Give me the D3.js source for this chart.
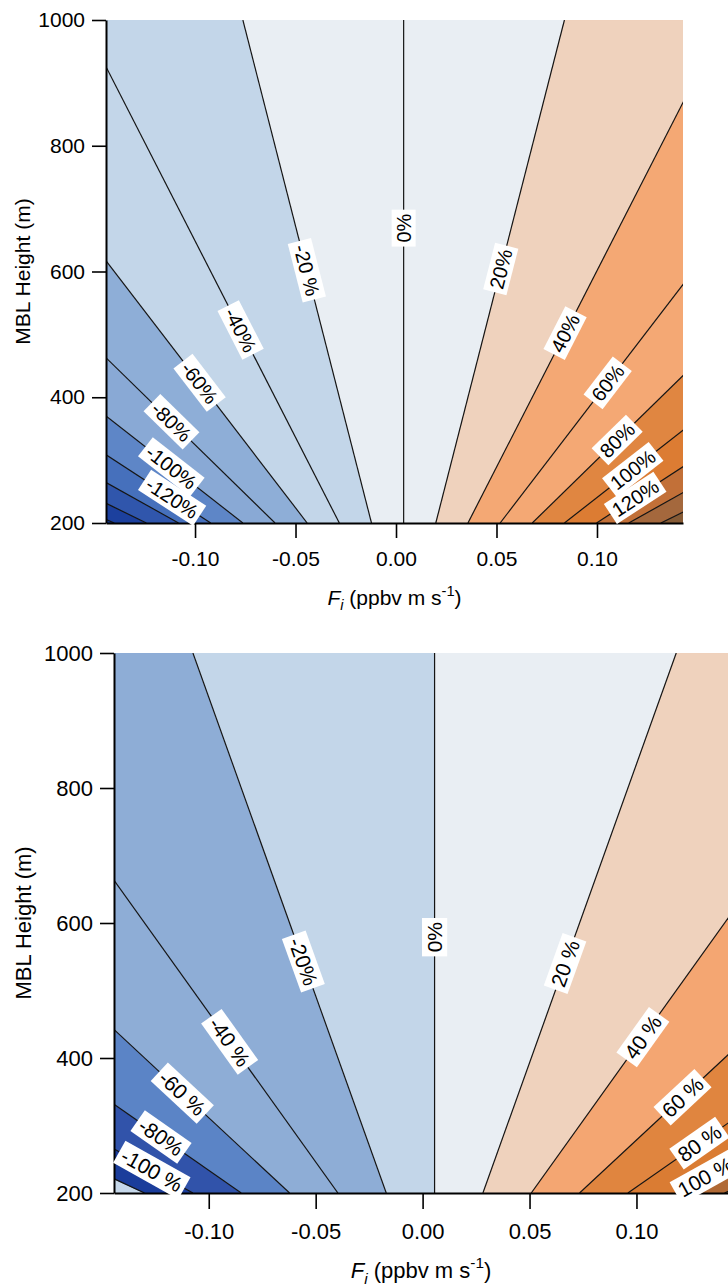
<!DOCTYPE html>
<html>
<head>
<meta charset="utf-8">
<script src="https://cdn.jsdelivr.net/npm/d3@7"></script>
<style>
body { margin: 0; background: #fff; }
svg { display: block; }
text { font-family: "Liberation Sans", Arial, sans-serif; fill: #000; }
</style>
</head>
<body>
<div id="chart"></div>
<script>
var w = 728;
var h = 1287;

var xTicks = [-0.10, -0.05, 0.00, 0.05, 0.10];
var yTicks = [200, 400, 600, 800, 1000];

// top panel: contour levels (%), where each line sits at H=200 m and H=1000 m
var levelsTop = [-200, -180, -160, -140, -120, -100, -80, -60, -40, -20, 0, 20, 40, 60, 80, 100, 120, 140, 160, 180, 200];
var f200Top  = [-0.1562, -0.1402, -0.1242, -0.1082, -0.0922, -0.0762, -0.0602, -0.0442, -0.0282, -0.0122, 0.0038, 0.0198, 0.0358, 0.0518, 0.0678, 0.0838, 0.0998, 0.1158, 0.1318, 0.1478, 0.1638];
var f1000Top = [-0.7962, -0.7162, -0.6362, -0.5562, -0.4762, -0.3962, -0.3162, -0.2362, -0.1562, -0.0762, 0.0038, 0.0838, 0.1638, 0.2438, 0.3238, 0.4038, 0.4838, 0.5638, 0.6438, 0.7238, 0.8038];
var colorsTop = ["#0f3590", "#1c409e", "#3056ac", "#4670bc", "#5e86c7", "#89a9d5", "#8eaed7", "#c3d6e9", "#c3d6e9", "#e9eef3",
                 "#e9eef3", "#efd2bd", "#f4a874", "#f4a874", "#e08641", "#dc7c33", "#c27038", "#a4683d", "#865b36", "#6e4e30"];
var labelLevelsTop = [-120, -100, -80, -60, -40, -20, 0, 20, 40, 60, 80, 100, 120];
var labelTextTop   = ["-120%", "-100%", "-80%", "-60%", "-40%", "-20 %", "0%", "20%", "40%", "60%", "80%", "100%", "120%"];
var labelHTop      = [240, 289, 361, 423, 507, 602, 669, 604, 502, 423, 332, 285, 240];

// bottom panel
var levelsBot = [-140, -120, -100, -80, -60, -40, -20, 0, 20, 40, 60, 80, 100, 120, 140];
var f200Bot  = [-0.1526, -0.1300, -0.1074, -0.0848, -0.0622, -0.0396, -0.0170, 0.0056, 0.0282, 0.0508, 0.0734, 0.0960, 0.1186, 0.1412, 0.1638];
var f1000Bot = [-0.7854, -0.6724, -0.5594, -0.4464, -0.3334, -0.2204, -0.1074, 0.0056, 0.1186, 0.2316, 0.3446, 0.4576, 0.5706, 0.6836, 0.7966];
var colorsBot = ["#c6d8ea", "#1b3d9b", "#3153aa", "#5b84c6", "#8eadd6", "#8eadd6", "#c3d6e9",
                 "#e9eef3", "#efd2bd", "#f4a672", "#e0853f", "#da7c33", "#b06935", "#8d5a33"];
var labelLevelsBot = [-100, -80, -60, -40, -20, 0, 20, 40, 60, 80, 100];
var labelTextBot   = ["-100 %", "-80%", "-60 %", "-40 %", "-20%", "0%", "20 %", "40 %", "60 %", "80 %", "100 %"];
var labelHBot      = [234, 283, 348, 424, 543, 579, 540, 431, 342, 274, 224];

var xDomain = [-0.1443, 0.1428];
var yDomain = [200, 1000];

var svg = d3.select("#chart")
            .append("svg")
            .attr("width", w)
            .attr("height", h);

svg.append("rect").attr("width", w).attr("height", h).attr("fill", "#fff");

function drawPanel(p) {
  var xScale = d3.scaleLinear().domain(xDomain).range([p.left, p.right]);
  var yScale = d3.scaleLinear().domain(yDomain).range([p.bottom, p.top]);

  var clipId = "clip-" + p.id;
  svg.append("clipPath").attr("id", clipId)
     .append("rect")
     .attr("x", p.left).attr("y", p.top)
     .attr("width", p.right - p.left).attr("height", p.bottom - p.top);

  var g = svg.append("g").attr("clip-path", "url(#" + clipId + ")");

  var line = d3.line().x(function(d) { return xScale(d[0]); }).y(function(d) { return yScale(d[1]); });

  // filled bands between neighbouring contour lines
  var bands = d3.range(p.levels.length - 1).map(function(i) {
    return {
      color: p.colors[i],
      pts: [[p.f200[i], 200], [p.f1000[i], 1000], [p.f1000[i + 1], 1000], [p.f200[i + 1], 200]]
    };
  });
  g.selectAll("path.band")
    .data(bands)
    .enter()
    .append("path")
    .attr("class", "band")
    .attr("d", function(d) { return line(d.pts) + "Z"; })
    .attr("fill", function(d) { return d.color; })
    .attr("stroke", function(d) { return d.color; })
    .attr("stroke-width", 0.6);

  // contour lines
  g.selectAll("path.cline")
    .data(p.levels)
    .enter()
    .append("path")
    .attr("class", "cline")
    .attr("d", function(d, i) { return line([[p.f200[i], 200], [p.f1000[i], 1000]]); })
    .attr("fill", "none")
    .attr("stroke", "#141414")
    .attr("stroke-width", 1.2);

  // axes
  var xAxis = d3.axisBottom(xScale)
                .tickValues(xTicks)
                .tickFormat(function(d) { return d.toFixed(2); })
                .tickSizeInner(p.tick)
                .tickSizeOuter(0)
                .tickPadding(p.xpad);
  var yAxis = d3.axisLeft(yScale)
                .tickValues(yTicks)
                .tickFormat(d3.format("d"))
                .tickSizeInner(14)
                .tickSizeOuter(0)
                .tickPadding(7);

  var gx = svg.append("g").attr("transform", "translate(0," + p.bottom + ")").call(xAxis);
  var gy = svg.append("g").attr("transform", "translate(" + p.left + ",0)").call(yAxis);
  [gx, gy].forEach(function(a) {
    a.select(".domain").attr("stroke", "#000").attr("stroke-width", 2);
    a.selectAll(".tick line").attr("stroke", "#000").attr("stroke-width", 1.6);
    a.selectAll(".tick text")
     .attr("font-size", p.fs + "px")
     .attr("font-family", "'Liberation Sans', Arial, sans-serif")
     .attr("fill", "#000");
  });

  // contour labels
  p.labelLevels.forEach(function(lv, j) {
    var i = p.levels.indexOf(lv);
    var x1 = xScale(p.f200[i]), y1 = yScale(200);
    var x2 = xScale(p.f1000[i]), y2 = yScale(1000);
    var t = (p.labelH[j] - 200) / 800;
    var fx = p.f200[i] + (p.f1000[i] - p.f200[i]) * t;
    var cx = xScale(fx), cy = yScale(p.labelH[j]);
    var ang = Math.atan2(y2 - y1, x2 - x1) * 180 / Math.PI;
    if (ang < -90) ang += 180;
    var lg = svg.append("g").attr("transform", "translate(" + cx + "," + cy + ") rotate(" + ang + ")");
    var box = lg.append("rect").attr("fill", "#fff");
    var txt = lg.append("text")
                .attr("text-anchor", "middle")
                .attr("dy", "0.36em")
                .attr("font-size", p.lfs + "px")
                .text(p.labelText[j]);
    var tw = txt.node().getComputedTextLength();
    var bh = p.lfs * 1.2;
    box.attr("x", -tw / 2 - 4).attr("y", -bh / 2).attr("width", tw + 8).attr("height", bh);
  });

  // axis titles
  var xt = svg.append("text")
              .attr("x", (p.left + p.right) / 2)
              .attr("y", p.titleY)
              .attr("text-anchor", "middle")
              .attr("font-size", p.fs + "px");
  xt.append("tspan").attr("font-style", "italic").text("F");
  xt.append("tspan").attr("font-style", "italic").attr("font-size", (p.fs * 0.7) + "px").attr("dy", p.fs * 0.25).text("i");
  xt.append("tspan").attr("dy", -p.fs * 0.25).text(" (ppbv m s");
  xt.append("tspan").attr("font-size", (p.fs * 0.7) + "px").attr("dy", -p.fs * 0.45).text("-1");
  xt.append("tspan").attr("dy", p.fs * 0.45).text(")");

  svg.append("text")
     .attr("transform", "translate(" + p.ytitleX + "," + ((p.top + p.bottom) / 2) + ") rotate(-90)")
     .attr("text-anchor", "middle")
     .attr("font-size", p.fs + "px")
     .text("MBL Height (m)");
}

drawPanel({
  id: "top", left: 106, right: 683, top: 20, bottom: 523,
  levels: levelsTop, f200: f200Top, f1000: f1000Top, colors: colorsTop,
  labelLevels: labelLevelsTop, labelText: labelTextTop, labelH: labelHTop,
  fs: 21, lfs: 20, tick: 15, xpad: 13, titleY: 605, ytitleX: 30
});

drawPanel({
  id: "bot", left: 114, right: 728, top: 653, bottom: 1193,
  levels: levelsBot, f200: f200Bot, f1000: f1000Bot, colors: colorsBot,
  labelLevels: labelLevelsBot, labelText: labelTextBot, labelH: labelHBot,
  fs: 22, lfs: 21, tick: 16, xpad: 14, titleY: 1278, ytitleX: 31
});
</script>
</body>
</html>
